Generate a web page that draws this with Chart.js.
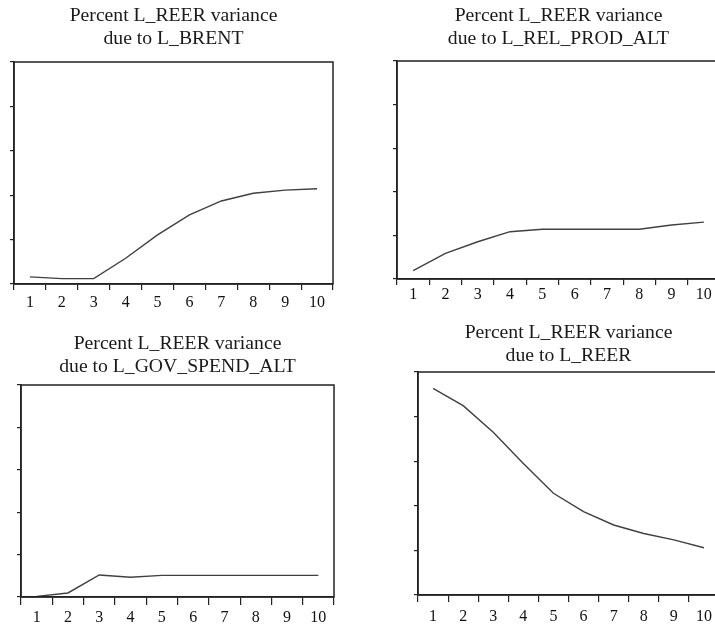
<!DOCTYPE html>
<html>
<head>
<meta charset="utf-8">
<script src="https://cdn.jsdelivr.net/npm/chart.js@4.4.1/dist/chart.umd.min.js"></script>
<style>
  html, body { margin: 0; padding: 0; background: #ffffff; overflow: hidden; }
  #wrap { position: relative; width: 715px; height: 630px; overflow: hidden; background: #ffffff; }
  #wrap canvas { position: absolute; }
</style>
</head>
<body>
<div id="wrap">
  <canvas id="c1"></canvas>
  <canvas id="c2"></canvas>
  <canvas id="c3"></canvas>
  <canvas id="c4"></canvas>
</div>
<script>
// ---- Data ----
const horizons = ['1', '2', '3', '4', '5', '6', '7', '8', '9', '10'];
const brentShare    = [3.2, 2.4, 2.4, 11.6, 22.1, 31.1, 37.4, 40.9, 42.3, 42.9];
const relProdShare  = [3.8, 11.8, 17.1, 21.7, 22.8, 22.8, 22.8, 22.8, 24.8, 26.1];
const govSpendShare = [0.3, 1.9, 10.4, 9.3, 10.2, 10.2, 10.2, 10.2, 10.2, 10.2];
const reerShare     = [92.7, 84.9, 73.0, 59.0, 45.6, 37.4, 31.4, 27.6, 24.7, 21.2];
const yTickValues   = [0, 20, 40, 60, 80, 100];

const titleLine1 = 'Percent L_REER variance';
const titleLines2 = ['due to L_BRENT', 'due to L_REL_PROD_ALT', 'due to L_GOV_SPEND_ALT', 'due to L_REER'];

// ---- Layout (plot-area rectangles in page pixels) ----
const layouts = [
  { id: 'c1', l: 14,  t: 62,  r: 333, b: 284, gap: 12, xTick: 6, xPad: 3.5 },
  { id: 'c2', l: 397, t: 61,  r: 720, b: 279, gap: 11, xTick: 6, xPad: 0.5 },
  { id: 'c3', l: 21,  t: 385, r: 334, b: 597, gap: 7,  xTick: 8, xPad: 3.5 },
  { id: 'c4', l: 418, t: 372, r: 719, b: 595, gap: 5,  xTick: 7, xPad: 5.5 }
];
const seriesList = [brentShare, relProdShare, govSpendShare, reerShare];

Chart.defaults.font.family = "'Liberation Serif', 'DejaVu Serif', serif";
Chart.defaults.color = '#1a1a1a';

const TITLE_SIZE = 19.7;
const TITLE_LH = 22.3;
const TICK_SIZE = 16;
const TICK_LH = TICK_SIZE * 1.2;
const Y_TICK_LEN = 4;
const PAD_R = 3, PAD_B = 4;
const INK = '#222222';

const frame = {
  id: 'frame',
  afterDraw(chart) {
    const a = chart.chartArea, ctx = chart.ctx;
    ctx.save();
    ctx.strokeStyle = INK;
    ctx.lineWidth = 1.5;
    ctx.strokeRect(a.left, a.top, a.right - a.left, a.bottom - a.top);
    ctx.restore();
  }
};

layouts.forEach((L, i) => {
  const canvas = document.getElementById(L.id);
  const cLeft = L.l - Y_TICK_LEN;
  const cTop = Math.round(L.t - 2 * TITLE_LH - L.gap);
  const gap = L.t - cTop - 2 * TITLE_LH;
  const W = L.r - cLeft + PAD_R;
  // x-axis height in Chart.js = tickLength + label line height + 2 * padding
  const axisH = L.xTick + 2 * L.xPad + TICK_LH;
  const H = Math.ceil((L.b - cTop) + axisH + PAD_B);
  const padB = H - (L.b - cTop) - axisH;
  canvas.width = W; canvas.height = H;
  canvas.style.left = cLeft + 'px';
  canvas.style.top = cTop + 'px';
  canvas.style.width = W + 'px';
  canvas.style.height = H + 'px';

  new Chart(canvas, {
    type: 'line',
    data: {
      labels: horizons,
      datasets: [{
        data: seriesList[i],
        borderColor: '#404040',
        borderWidth: 1.4,
        pointRadius: 0,
        tension: 0,
        fill: false
      }]
    },
    options: {
      responsive: false,
      animation: false,
      events: [],
      layout: { padding: { left: 0, right: PAD_R, top: 0, bottom: padB } },
      plugins: {
        legend: { display: false },
        tooltip: { enabled: false },
        title: {
          display: true,
          fullSize: false,
          text: [titleLine1, titleLines2[i]],
          font: { size: TITLE_SIZE, weight: 'normal', lineHeight: TITLE_LH + 'px' },
          color: '#1a1a1a',
          padding: { top: 0, bottom: gap }
        }
      },
      scales: {
        x: {
          type: 'category',
          offset: true,
          grid: {
            offset: true,
            drawOnChartArea: false,
            drawTicks: true,
            tickLength: L.xTick,
            color: INK,
            lineWidth: 1.2
          },
          border: { display: true, color: INK, width: 1.5 },
          ticks: {
            padding: L.xPad,
            maxRotation: 0,
            autoSkip: false,
            color: '#111111',
            font: { size: TICK_SIZE, lineHeight: 1.2 }
          }
        },
        y: {
          min: yTickValues[0],
          max: yTickValues[yTickValues.length - 1],
          afterBuildTicks(scale) { scale.ticks = yTickValues.map(v => ({ value: v })); },
          grid: {
            drawOnChartArea: false,
            drawTicks: true,
            tickLength: Y_TICK_LEN,
            color: INK,
            lineWidth: 1.2
          },
          border: { display: true, color: INK, width: 1.5 },
          ticks: { display: false }
        }
      }
    },
    plugins: [frame]
  });
});
</script>
</body>
</html>
